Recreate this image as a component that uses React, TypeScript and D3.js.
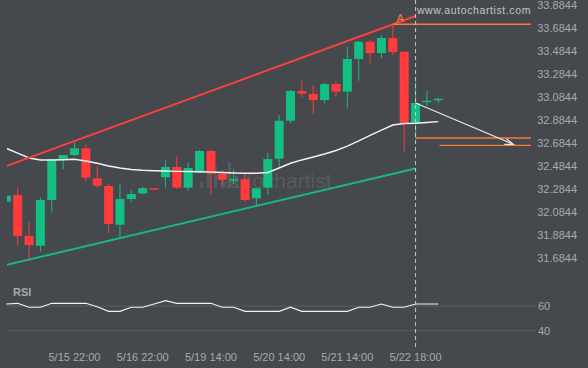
import * as d3 from "d3";

// candles, 4h each
const opens = [32.174, 32.232, 31.876, 31.791, 32.189, 32.545, 32.58, 32.638, 32.377, 32.311, 31.974, 32.197, 32.245, 32.292, 32.386, 32.476, 32.296, 32.426, 32.615, 32.417, 32.368, 32.369, 32.204, 32.296, 32.548, 32.878, 33.137, 33.111, 33.058, 33.197, 33.131, 33.415, 33.565, 33.467, 33.597, 33.478, 32.856, 33.047, 33.065];
const highs = [32.226, 32.299, 31.995, 32.212, 32.545, 32.58, 32.687, 32.673, 32.484, 32.334, 32.328, 32.276, 32.304, 32.293, 32.537, 32.571, 32.517, 32.624, 32.63, 32.441, 32.456, 32.417, 32.293, 32.595, 32.928, 33.145, 33.226, 33.186, 33.209, 33.224, 33.522, 33.571, 33.58, 33.624, 33.717, 33.478, 33.217, 33.139, 33.078];
const lows = [32.174, 31.797, 31.658, 31.739, 32.082, 32.456, 32.571, 32.348, 32.291, 31.899, 31.861, 32.171, 32.238, 32.289, 32.299, 32.282, 32.27, 32.424, 32.238, 32.311, 32.328, 32.174, 32.137, 32.232, 32.464, 32.856, 33.082, 32.934, 33.03, 33.087, 32.986, 33.226, 33.377, 33.421, 33.45, 32.609, 32.725, 33.006, 33.03];
const closes = [32.226, 31.876, 31.797, 32.189, 32.543, 32.58, 32.638, 32.383, 32.313, 31.98, 32.197, 32.241, 32.291, 32.29, 32.476, 32.296, 32.467, 32.615, 32.417, 32.365, 32.37, 32.189, 32.291, 32.545, 32.878, 33.137, 33.113, 33.058, 33.197, 33.131, 33.415, 33.565, 33.467, 33.597, 33.476, 32.856, 33.032, 33.052, 33.069];
const ma = [32.638, 32.597, 32.554, 32.537, 32.537, 32.539, 32.543, 32.528, 32.508, 32.484, 32.467, 32.454, 32.447, 32.443, 32.441, 32.438, 32.437, 32.435, 32.432, 32.428, 32.424, 32.421, 32.421, 32.428, 32.467, 32.508, 32.537, 32.563, 32.589, 32.619, 32.658, 32.702, 32.75, 32.797, 32.841, 32.854, 32.856, 32.863, 32.87];
const rsi = [61.6, 62.2, 59, 59, 62.2, 62.2, 62.2, 62.2, 59.4, 55.7, 55.7, 59, 59, 61.6, 64.3, 62.2, 62.2, 62.2, 62.2, 59, 59, 55.7, 55.7, 55.7, 55.7, 59, 55.7, 55.7, 55.7, 55.7, 55.7, 59, 59, 61.6, 59, 59, 61.6, 61.6, 61.6];

const yTicks = [31.6844, 31.8844, 32.0844, 32.2844, 32.4844, 32.6844, 32.8844, 33.0844, 33.2844, 33.4844, 33.6844, 33.8844];
const rsiTicks = [40, 60];
const xTickIdx = [6, 12, 18, 24, 30, 36];
const xTickLabels = ["5/15 22:00", "5/16 22:00", "5/19 14:00", "5/20 14:00", "5/21 14:00", "5/22 18:00"];

// pattern: [index, price] endpoints
const resistance = [[0, 32.484], [36, 33.789]];
const support = [[0, 31.624], [36, 32.463]];
const forecast = [[36, 33.032], [44.6, 32.673]];
const levels = [
  { from: 34, price: 33.717 },
  { from: 36, price: 32.728 },
  { from: 38.1, price: 32.664 },
];
const nowIdx = 36;

const W = 588;
const H = 368;
const BG = "#45484d";
const UP = "#13bf82";
const DOWN = "#ff3b3b";
const TXT = "#a8aaae";
const ORANGE = "#ff7a30";

export default function App() {
  const x = d3.scaleLinear().domain([0, 38]).range([6.3, 438.3]);
  const y = d3.scaleLinear().domain([31.6844, 33.8844]).range([258, 5]);
  const yr = d3.scaleLinear().domain([40, 60]).range([330.7, 306]);
  const plotL = 7;
  const plotR = 531;
  const bw = 9;

  const maLine = d3.line<number>().x((_, i) => x(i)).y((d) => y(d));
  const rsiLine = d3.line<number>().x((_, i) => x(i)).y((d) => yr(d));
  const seg = d3.line<number[]>().x((d) => x(d[0])).y((d) => y(d[1]));

  const fx = forecast[1];
  const tipX = x(fx[0]);
  const tipY = y(fx[1]);

  return (
    <svg width={W} height={H} style={{ position: "absolute", left: 0, top: 0, background: BG }} fontFamily="Liberation Sans, Arial, sans-serif">
      <defs>
        <clipPath id="plot">
          <rect x={plotL} y={0} width={plotR - plotL} height={280} />
        </clipPath>
      </defs>
      <rect width={W} height={H} fill={BG} />

      {/* watermark */}
      <g opacity={0.09} fill="#ffffff">
        {[6, 14, 22, 18, 26, 12].map((hgt, k) => (
          <rect key={k} x={200 + k * 7} y={188 - hgt} width={3} height={hgt} />
        ))}
        <text x={223} y={188} fontSize={21}>autochartist</text>
      </g>

      <text x={531} y={14} textAnchor="end" fontSize={10.5} fill="#c4c6c9" letterSpacing={0.6}>www.autochartist.com</text>

      <g clipPath="url(#plot)">
        {opens.map((o, i) => {
          const c = closes[i];
          const col = c >= o ? UP : DOWN;
          const top = y(Math.max(o, c));
          const bot = y(Math.min(o, c));
          return (
            <g key={i}>
              <line x1={x(i)} x2={x(i)} y1={y(highs[i])} y2={y(lows[i])} stroke={col} strokeWidth={1} />
              <rect x={x(i) - bw / 2} y={top} width={bw} height={Math.max(1.5, bot - top)} fill={col} />
            </g>
          );
        })}
        <path d={maLine(ma) ?? ""} fill="none" stroke="#f2f2f2" strokeWidth={1.4} />
        <path d={seg(resistance) ?? ""} stroke="#ff4040" strokeWidth={2} fill="none" />
        <path d={seg(support) ?? ""} stroke="#17b97e" strokeWidth={2} fill="none" />
        {levels.map((l, k) => (
          <line key={k} x1={x(l.from)} x2={plotR} y1={y(l.price)} y2={y(l.price)} stroke={ORANGE} strokeWidth={1.3} />
        ))}
        <path d={seg(forecast) ?? ""} stroke="#e8e8e8" strokeWidth={1.2} fill="none" />
        <path d={`M${tipX - 7},${tipY - 5.5}L${tipX},${tipY}L${tipX - 9},${tipY}`} stroke="#e8e8e8" strokeWidth={1.2} fill="none" />
      </g>
      <text x={x(nowIdx) - 19} y={22} fontSize={11} fill={ORANGE}>A</text>

      {yTicks.map((t) => (
        <text key={t} x={577} y={y(t) + 4} textAnchor="end" fontSize={11} fill={TXT}>
          {t.toFixed(4)}
        </text>
      ))}

      {/* RSI panel */}
      <text x={13} y={296} fontSize={11} fontWeight="bold" fill={TXT}>RSI</text>
      {rsiTicks.map((t) => (
        <g key={t}>
          <line x1={7} x2={536} y1={yr(t)} y2={yr(t)} stroke="#5b5e63" strokeWidth={1} />
          <text x={538} y={yr(t) + 4} fontSize={11} fill={TXT}>{t}</text>
        </g>
      ))}
      <path d={rsiLine(rsi) ?? ""} fill="none" stroke="#f2f2f2" strokeWidth={1.2} />

      <line x1={x(nowIdx)} x2={x(nowIdx)} y1={0} y2={350} stroke="#c8c8c8" strokeWidth={1} strokeDasharray="4,3" />

      {xTickIdx.map((i, k) => (
        <text key={i} x={x(i)} y={361} textAnchor="middle" fontSize={11} fill={TXT}>
          {xTickLabels[k]}
        </text>
      ))}
    </svg>
  );
}
